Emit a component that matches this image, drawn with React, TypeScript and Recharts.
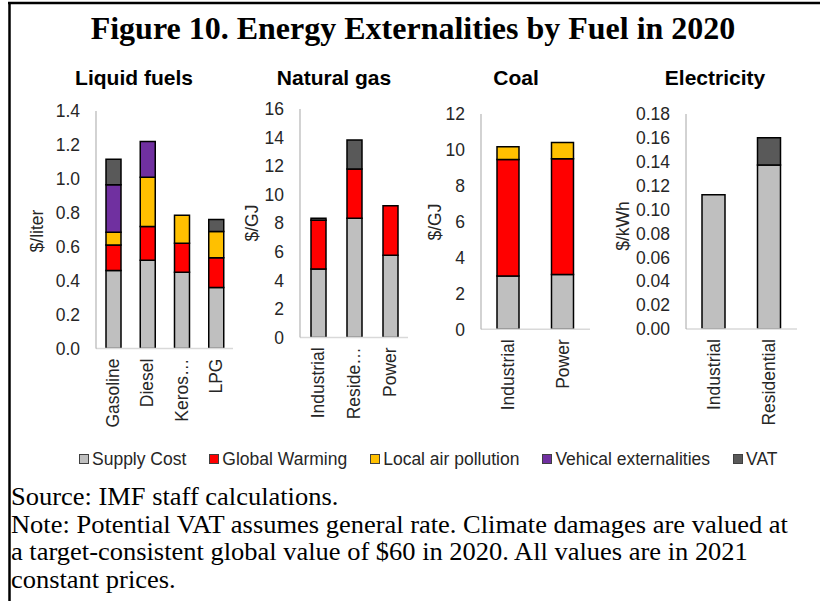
import React from 'react';
import { BarChart, Bar, XAxis, YAxis } from 'recharts';

// ---------- data ----------
const seriesKeys = ['supply', 'warming', 'local', 'vehicle', 'vat'];
const seriesNames = ['Supply Cost', 'Global Warming', 'Local air pollution', 'Vehical externalities', 'VAT'];
const seriesColors = ['#BFBFBF', '#FF0000', '#FFC000', '#7030A0', '#595959'];

const liquidCategories = ['Gasoline', 'Diesel', 'Kerosene', 'LPG'];
const liquidTickLabels = ['Gasoline', 'Diesel', 'Keros…', 'LPG'];
const liquidSupply = [0.46, 0.52, 0.45, 0.36];
const liquidWarming = [0.15, 0.2, 0.17, 0.175];
const liquidLocal = [0.075, 0.29, 0.165, 0.155];
const liquidVehicle = [0.28, 0.21, 0, 0];
const liquidVAT = [0.15, 0, 0, 0.07];
const liquidTicks = [0, 0.2, 0.4, 0.6, 0.8, 1.0, 1.2, 1.4];

const gasCategories = ['Industrial', 'Residential', 'Power'];
const gasTickLabels = ['Industrial', 'Reside…', 'Power'];
const gasSupply = [4.8, 8.35, 5.75];
const gasWarming = [3.4, 3.45, 3.48];
const gasVAT = [0.15, 2.03, 0];
const gasTicks = [0, 2, 4, 6, 8, 10, 12, 14, 16];

const coalCategories = ['Industrial', 'Power'];
const coalTickLabels = ['Industrial', 'Power'];
const coalSupply = [2.97, 3.05];
const coalWarming = [6.49, 6.45];
const coalLocal = [0.71, 0.91];
const coalTicks = [0, 2, 4, 6, 8, 10, 12];

const elecCategories = ['Industrial', 'Residential'];
const elecTickLabels = ['Industrial', 'Residential'];
const elecSupply = [0.1125, 0.1373];
const elecVAT = [0, 0.0229];
const elecTicks = [0, 0.02, 0.04, 0.06, 0.08, 0.1, 0.12, 0.14, 0.16, 0.18];

const panelTitles = ['Liquid fuels', 'Natural gas', 'Coal', 'Electricity'];
const unitLabels = ['$/liter', '$/GJ', '$/GJ', '$/kWh'];

const figureTitle = 'Figure 10. Energy Externalities by Fuel in 2020';
const noteLines = [
  'Source: IMF staff calculations.',
  'Note: Potential VAT assumes general rate. Climate damages are valued at',
  'a target-consistent global value of $60 in 2020. All values are in 2021',
  'constant prices.',
];

// ---------- build tables ----------
const liquidData = liquidCategories.map((name, i) => ({
  name, supply: liquidSupply[i], warming: liquidWarming[i], local: liquidLocal[i], vehicle: liquidVehicle[i], vat: liquidVAT[i],
}));
const gasData = gasCategories.map((name, i) => ({ name, supply: gasSupply[i], warming: gasWarming[i], vat: gasVAT[i] }));
const coalData = coalCategories.map((name, i) => ({ name, supply: coalSupply[i], warming: coalWarming[i], local: coalLocal[i] }));
const elecData = elecCategories.map((name, i) => ({ name, supply: elecSupply[i], vat: elecVAT[i] }));

// ---------- layout ----------
const SANS = '"Liberation Sans", Arial, sans-serif';
const SERIF = '"Liberation Serif", "Times New Roman", serif';
const TEXT = '#262626';
const FRAME = '#a6a6a6';
const TICK_FS = 17.5;
const NOTE_FS = 24.8;
const NOTE_SX = 1.068;

const panels = [
  { data: liquidData, tickLabels: liquidTickLabels, ticks: liquidTicks, keys: ['supply', 'warming', 'local', 'vehicle', 'vat'], fmt: (v: number) => v.toFixed(1), barSize: 15,
    plotLeft: 96, plotRight: 233, plotTop: 110.7, plotBottom: 348.3, titleX: 134, unitX: 37, unitY: 231 },
  { data: gasData, tickLabels: gasTickLabels, ticks: gasTicks, keys: ['supply', 'warming', 'vat'], fmt: (v: number) => String(v), barSize: 15,
    plotLeft: 300, plotRight: 408, plotTop: 109.3, plotBottom: 337.7, titleX: 334, unitX: 252, unitY: 223 },
  { data: coalData, tickLabels: coalTickLabels, ticks: coalTicks, keys: ['supply', 'warming', 'local'], fmt: (v: number) => String(v), barSize: 22,
    plotLeft: 481, plotRight: 590, plotTop: 114, plotBottom: 329.3, titleX: 516, unitX: 435, unitY: 222 },
  { data: elecData, tickLabels: elecTickLabels, ticks: elecTicks, keys: ['supply', 'vat'], fmt: (v: number) => v.toFixed(2), barSize: 23,
    plotLeft: 686, plotRight: 797, plotTop: 114.3, plotBottom: 329.3, titleX: 715, unitX: 623, unitY: 226 },
];

const XTick = (props: any) => {
  const { x, y, index, labels, payload } = props;
  const label = labels[index] ?? payload?.value;
  return (
    <g transform={`translate(${x},${y})`}>
      <text transform="rotate(-90)" x={-10} y={0} dy="0.35em" textAnchor="end" fontSize={TICK_FS} fontFamily={SANS} fill={TEXT}>
        {label}
      </text>
    </g>
  );
};

function Panel({ cfg }: { cfg: any }) {
  const yW = 80, mT = 10, mR = 10, xH = 110;
  const plotW = cfg.plotRight - cfg.plotLeft;
  const plotH = cfg.plotBottom - cfg.plotTop;
  const width = yW + plotW + mR;
  const height = mT + plotH + xH;
  const max = cfg.ticks[cfg.ticks.length - 1];
  return (
    <div style={{ position: 'absolute', left: cfg.plotLeft - yW, top: cfg.plotTop - mT }}>
      <BarChart width={width} height={height} data={cfg.data} margin={{ top: mT, right: mR, bottom: 0, left: 0 }}>
        <XAxis xAxisId="b" dataKey="name" height={xH} interval={0} tickLine={false} tickSize={0} tickMargin={0}
          axisLine={{ stroke: '#d9d9d9', strokeWidth: 1.5 }} tick={(p: any) => <XTick {...p} labels={cfg.tickLabels} />} />
        <XAxis xAxisId="t" dataKey="name" orientation="top" height={0} tick={false} tickLine={false} axisLine={{ stroke: FRAME }} />
        <YAxis yAxisId="l" width={yW} domain={[0, max]} ticks={cfg.ticks} interval={0} tickLine={false} tickSize={0} tickMargin={16}
          tickFormatter={cfg.fmt} tick={{ fontSize: TICK_FS, fill: TEXT, fontFamily: SANS }} axisLine={{ stroke: FRAME }} allowDataOverflow />
        <YAxis yAxisId="r" orientation="right" width={0} domain={[0, max]} tick={false} tickLine={false} axisLine={{ stroke: FRAME }} />
        {cfg.keys.map((k: string) => {
          const idx = seriesKeys.indexOf(k);
          return (
            <Bar key={k} xAxisId="b" yAxisId="l" dataKey={k} name={seriesNames[idx]} stackId="s" fill={seriesColors[idx]}
              stroke="#000" strokeWidth={1.5} barSize={cfg.barSize} isAnimationActive={false} />
          );
        })}
      </BarChart>
    </div>
  );
}

export default function App() {
  return (
    <div style={{ position: 'absolute', left: 0, top: 0, width: 820, height: 601, background: '#fff', overflow: 'hidden' }}>
      <svg width={820} height={601} style={{ position: 'absolute', left: 0, top: 0 }}>
        <line x1={9.5} y1={2} x2={9.5} y2={601} stroke="#000" strokeWidth={2.5} />
        <line x1={8} y1={3} x2={820} y2={3} stroke="#000" strokeWidth={2.5} />
        <text x={413} y={39} textAnchor="middle" fontFamily={SERIF} fontWeight="bold" fontSize={32} fill="#000">{figureTitle}</text>
        {panels.map((p, i) => (
          <text key={'t' + i} x={p.titleX} y={85} textAnchor="middle" fontFamily={SANS} fontWeight="bold" fontSize={21} fill="#000">
            {panelTitles[i]}
          </text>
        ))}
        {panels.map((p, i) => (
          <text key={'u' + i} transform={`translate(${p.unitX},${p.unitY}) rotate(-90)`} textAnchor="middle" dy="0.35em"
            fontFamily={SANS} fontSize={TICK_FS} fill={TEXT}>
            {unitLabels[i]}
          </text>
        ))}
        {noteLines.map((t, i) => (
          <text key={'n' + i} transform={`translate(11,${505 + i * 27.5}) scale(${NOTE_SX},1)`} x={0} y={0}
            fontFamily={SERIF} fontSize={NOTE_FS} fill="#000">{t}</text>
        ))}
      </svg>
      {panels.map((p, i) => <Panel key={i} cfg={p} />)}
      <div style={{ position: 'absolute', left: 79, top: 448, height: 22, display: 'flex', alignItems: 'center', gap: 23,
        fontFamily: SANS, fontSize: TICK_FS, color: TEXT, whiteSpace: 'nowrap' }}>
        {seriesNames.map((n, i) => (
          <div key={n} style={{ display: 'flex', alignItems: 'center' }}>
            <span style={{ display: 'inline-block', width: 10, height: 10, boxSizing: 'border-box', background: seriesColors[i],
              border: '1px solid #404040', marginRight: 3 }} />
            <span>{n}</span>
          </div>
        ))}
      </div>
    </div>
  );
}
